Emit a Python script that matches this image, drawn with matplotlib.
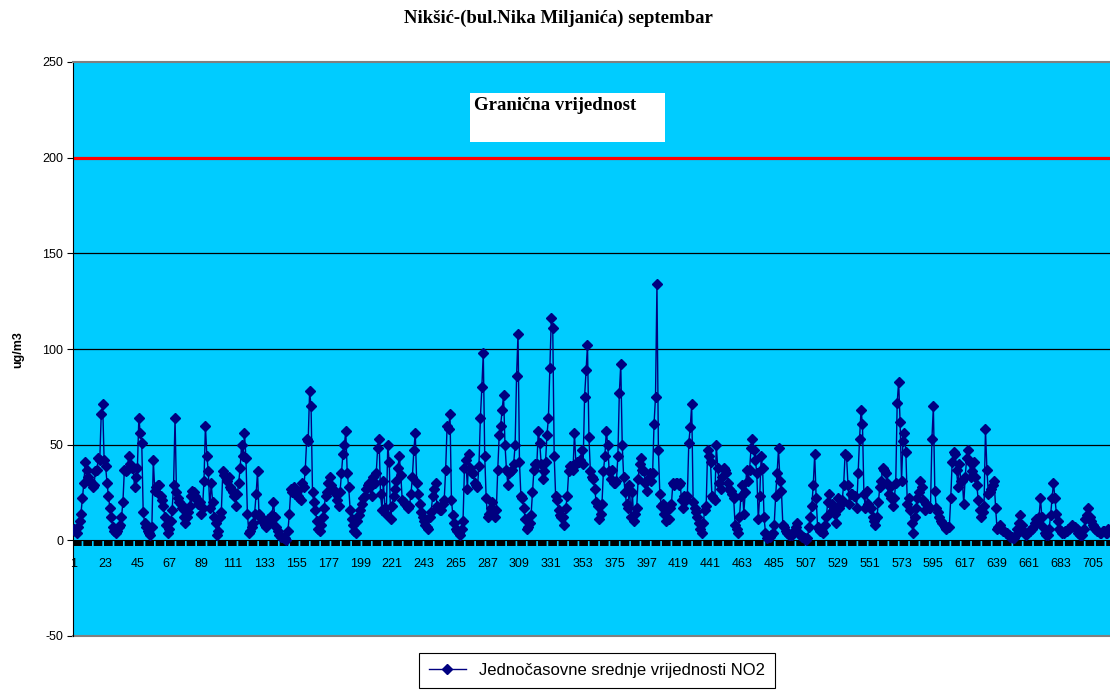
import matplotlib
matplotlib.use('Agg')
import matplotlib.pyplot as plt
from matplotlib.patches import Rectangle

plt.rcParams['font.family'] = ['Liberation Sans', 'DejaVu Sans']
plt.rcParams['axes.unicode_minus'] = False

# hourly NO2 means, September (30 days x 24 h)
no2 = [
    6, 5, 4, 7, 10, 14, 22, 30, 41, 37, 33, 31, 30, 28, 29, 36, 37, 43, 42, 66, 71, 42, 39, 30,
    23, 17, 12, 7, 5, 4, 5, 7, 8, 12, 20, 37, 36, 37, 44, 40, 38, 38, 28, 33, 38, 64, 56, 51,
    15, 9, 7, 5, 4, 3, 7, 42, 26, 28, 29, 29, 23, 21, 18, 12, 8, 4, 6, 10, 16, 29, 64, 25,
    22, 20, 19, 17, 12, 9, 12, 15, 18, 23, 26, 25, 23, 21, 19, 20, 14, 17, 31, 60, 44, 36, 17, 30,
    20, 12, 9, 3, 5, 12, 15, 36, 34, 33, 31, 33, 28, 27, 25, 23, 18, 24, 30, 38, 50, 44, 56, 43,
    14, 4, 5, 7, 9, 14, 24, 36, 14, 12, 10, 11, 8, 7, 11, 9, 10, 13, 20, 12, 7, 5, 3, 2,
    2, 1, 1, 0, 5, 14, 27, 25, 28, 24, 26, 23, 22, 21, 30, 28, 37, 53, 52, 78, 70, 25, 20, 16,
    10, 6, 5, 8, 12, 17, 23, 25, 30, 33, 29, 27, 26, 24, 21, 18, 25, 35, 45, 50, 57, 35, 28, 16,
    11, 8, 5, 4, 10, 13, 16, 19, 22, 23, 27, 29, 30, 28, 23, 33, 30, 35, 48, 53, 24, 16, 31, 17,
    14, 50, 41, 11, 18, 23, 27, 31, 38, 44, 34, 21, 20, 19, 18, 17, 18, 24, 33, 47, 56, 30, 24, 19,
    15, 12, 10, 8, 7, 6, 12, 15, 23, 27, 30, 18, 17, 16, 16, 19, 21, 37, 60, 58, 66, 21, 13, 9,
    6, 5, 4, 3, 6, 10, 38, 42, 27, 45, 38, 35, 35, 30, 29, 28, 39, 64, 80, 98, 44, 22, 12, 14,
    17, 20, 16, 12, 16, 37, 55, 60, 68, 76, 50, 37, 29, 35, 36, 37, 40, 50, 86, 108, 41, 23, 22, 17,
    11, 6, 7, 9, 13, 25, 37, 40, 40, 57, 51, 40, 32, 36, 41, 55, 64, 90, 116, 111, 44, 23, 21, 16,
    13, 12, 12, 8, 17, 23, 36, 39, 39, 37, 56, 40, 41, 41, 42, 47, 40, 75, 89, 102, 54, 36, 33, 32,
    27, 20, 18, 11, 14, 19, 36, 44, 57, 50, 36, 32, 37, 30, 30, 31, 44, 77, 92, 50, 33, 25, 19, 17,
    29, 12, 25, 10, 14, 17, 32, 40, 43, 37, 36, 30, 26, 32, 35, 31, 35, 61, 75, 134, 47, 24, 18, 19,
    14, 10, 16, 11, 17, 19, 30, 29, 30, 30, 29, 30, 21, 17, 23, 21, 23, 51, 59, 71, 20, 17, 15, 12,
    9, 6, 4, 9, 16, 18, 47, 44, 41, 23, 22, 21, 50, 38, 30, 27, 33, 38, 37, 35, 30, 27, 26, 24,
    22, 8, 6, 4, 12, 23, 29, 14, 25, 37, 31, 37, 48, 53, 47, 42, 35, 11, 23, 44, 38, 12, 4, 1,
    2, 2, 3, 4, 8, 23, 35, 48, 31, 26, 8, 7, 5, 4, 3, 3, 3, 4, 5, 7, 9, 4, 3, 2,
    2, 1, 0, 1, 7, 12, 18, 29, 45, 22, 7, 6, 5, 5, 4, 8, 12, 20, 24, 15, 19, 17, 14, 9,
    22, 17, 19, 21, 29, 45, 44, 29, 19, 24, 24, 23, 23, 17, 35, 53, 68, 61, 24, 17, 26, 19, 17, 17,
    12, 10, 8, 12, 20, 28, 31, 38, 37, 35, 30, 24, 28, 22, 18, 22, 30, 72, 83, 62, 31, 52, 56, 46,
    19, 22, 16, 9, 4, 12, 17, 22, 25, 31, 28, 21, 16, 19, 18, 17, 17, 53, 70, 26, 17, 15, 12, 10,
    9, 8, 7, 6, 7, 7, 22, 41, 46, 45, 37, 28, 40, 31, 31, 19, 33, 43, 47, 41, 33, 36, 41, 33,
    29, 21, 16, 12, 15, 18, 58, 37, 24, 25, 27, 29, 31, 17, 6, 7, 8, 6, 5, 5, 4, 4, 3, 2,
    2, 1, 1, 3, 6, 9, 13, 8, 5, 4, 3, 4, 5, 5, 6, 7, 9, 11, 10, 12, 22, 12, 7, 4,
    3, 3, 6, 13, 22, 30, 22, 14, 10, 6, 5, 4, 4, 5, 5, 6, 6, 7, 8, 7, 7, 6, 4, 3,
    3, 3, 6, 11, 13, 17, 12, 10, 8, 7, 6, 5, 5, 4, 4, 5, 5, 4, 4, 6, 5, 6, 5, 4,
]
hours = list(range(1, len(no2) + 1))
limit_value = 200
x_ticks = list(range(1, 721, 22))
y_ticks = [-50, 0, 50, 100, 150, 200, 250]
grid_levels = [50, 100, 150]

fig = plt.figure(figsize=(11.1, 6.92), dpi=100)
ax = fig.add_axes([73 / 1110, 56 / 692, 1042 / 1110, 574 / 692])
ax.set_facecolor('#00CCFF')
ax.set_xlim(0.5, 720.5)
ax.set_ylim(-50, 250)

for g in grid_levels:
    ax.axhline(g, color='black', lw=0.9, zorder=1)
ax.axhline(limit_value, color='#FF0000', lw=2.3, zorder=1)

ax.plot(hours, no2, color='#000080', lw=1.0, marker='D', ms=4.8,
        mfc='#000080', mec='#000080', zorder=3,
        label='Jednočasovne srednje vrijednosti NO2')

# x axis sits at zero, drawn as a heavy notched band
ax.spines['bottom'].set_position(('data', 0))
ax.spines['bottom'].set_color('black')
ax.axhline(-1.6, color='black', lw=4.3, linestyle=(0, (1.45, 0.28)), zorder=2)
ax.axhline(-50, color='#808080', lw=1.5, clip_on=False, zorder=2)
ax.spines['top'].set_color('#808080')
ax.spines['top'].set_linewidth(1.5)
ax.spines['right'].set_visible(False)
ax.spines['left'].set_color('black')

ax.set_yticks(y_ticks)
ax.set_xticks(x_ticks)
ax.tick_params(axis='y', direction='out', length=4, width=0.8, pad=3, labelsize=9)
ax.tick_params(axis='x', length=0, pad=13, labelsize=9)

fig.text(18 / 1110, 1 - 350 / 692, 'ug/m3', rotation=90, fontweight='bold',
         fontsize=9, ha='center', va='center')
fig.text(558 / 1110, 1 - 18 / 692, 'Nikšić-(bul.Nika Miljanića) septembar',
         family='Liberation Serif', fontweight='bold', fontsize=13.5,
         ha='center', va='center')

ax.add_patch(Rectangle((0.381, 0.861), 0.187, 0.085, transform=ax.transAxes,
                       facecolor='white', edgecolor='none', zorder=4))
ax.text(0.385, 0.925, 'Granična vrijednost', transform=ax.transAxes,
        family='Liberation Serif', fontweight='bold', fontsize=13.5,
        ha='left', va='center', zorder=5)

leg = ax.legend(loc='center', bbox_to_anchor=(597 / 1110, 1 - 670 / 692),
                bbox_transform=fig.transFigure, fancybox=False, framealpha=1,
                edgecolor='black', fontsize=12, handlelength=2.2,
                borderpad=0.6, borderaxespad=0)
leg.get_frame().set_linewidth(0.8)

fig.savefig('out.png', dpi=100)
